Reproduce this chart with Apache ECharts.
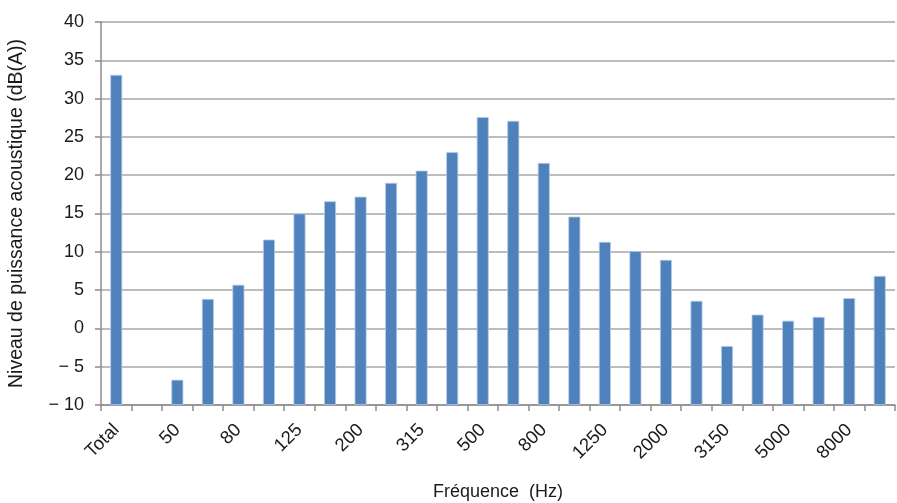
<!DOCTYPE html>
<html>
<head>
<meta charset="utf-8">
<script src="https://cdn.jsdelivr.net/npm/echarts@6/dist/echarts.min.js"></script>
<style>
html,body{margin:0;padding:0;background:#fff;}
#chart{width:897px;height:503px;}
</style>
</head>
<body>
<div id="chart"></div>
<script>
var categories = ['Total','40','50','63','80','100','125','160','200','250','315','400','500','630','800','1000','1250','1600','2000','2500','3150','4000','5000','6300','8000','10000'];
var levels = [33.1,null,-6.7,3.85,5.7,11.6,15.0,16.6,17.2,19.0,20.6,23.0,27.6,27.1,21.6,14.6,11.3,10.1,8.95,3.6,-2.3,1.8,1.0,1.5,3.95,6.85];
var yTicks = {min:-10, max:40, interval:5};
var yName = 'Niveau de puissance acoustique (dB(A))';
var xName = 'Fréquence  (Hz)';

// Bars in the reference rise from the bottom of the axis (-10), so the
// value axis is expressed relative to its minimum and relabelled.
var base = yTicks.min;
var barData = levels.map(function(v){ return v === null ? null : v - base; });

var chart = echarts.init(document.getElementById('chart'), null, {renderer:'canvas'});
var font = 'Liberation Sans, Arial, Helvetica, sans-serif';
chart.setOption({
  animation:false,
  backgroundColor:'#fff',
  grid:{left:101, right:2, top:22, bottom:98, containLabel:false, outerBoundsMode:'none'},
  xAxis:{
    type:'category',
    data:categories,
    name:xName,
    nameLocation:'middle',
    nameGap:78,
    nameTextStyle:{fontFamily:font, fontSize:18, color:'#1a1a1a'},
    axisLine:{show:true, onZero:false, lineStyle:{color:'#8c8c8c', width:1.5}},
    axisTick:{show:true, alignWithLabel:false, interval:0, length:6, lineStyle:{color:'#8c8c8c', width:1.5}},
    axisLabel:{interval:1, rotate:45, fontFamily:font, fontSize:18.5, color:'#1a1a1a', margin:22},
    splitLine:{show:false}
  },
  yAxis:{
    type:'value',
    min:0, max:yTicks.max - base, interval:yTicks.interval,
    name:yName,
    nameLocation:'middle',
    nameGap:74,
    nameRotate:90,
    nameTextStyle:{fontFamily:font, fontSize:19.5, color:'#1a1a1a'},
    axisLine:{show:true, lineStyle:{color:'#8c8c8c', width:1.5}},
    axisTick:{show:true, length:6, lineStyle:{color:'#8c8c8c', width:1.5}},
    axisLabel:{fontFamily:font, fontSize:18, color:'#1a1a1a', margin:17,
      formatter:function(v){ var t = Math.round(v + base); return t<0 ? '\u2212 ' + Math.abs(t) : String(t); }},
    splitLine:{show:true, lineStyle:{color:'#a6a6a6', width:1.5}}
  },
  series:[{
    type:'bar',
    data:barData,
    barWidth:12,
    itemStyle:{color:'#4f81bd', borderColor:'#b8cce4', borderWidth:0.8}
  }]
});
</script>
</body>
</html>
